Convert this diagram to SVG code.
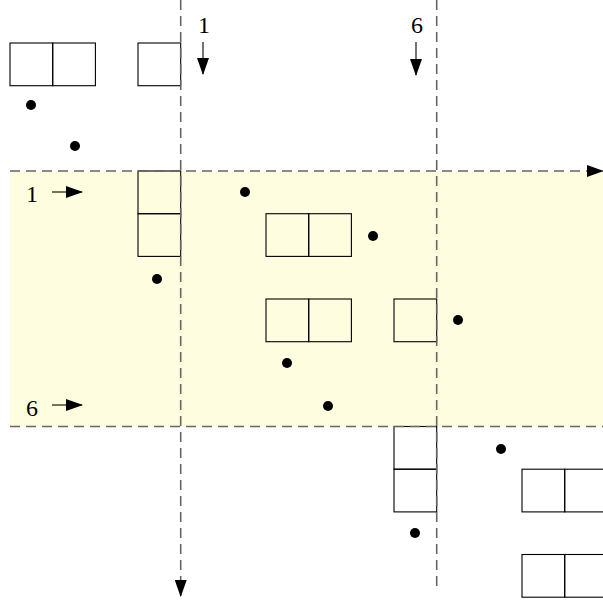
<svg xmlns="http://www.w3.org/2000/svg" width="603" height="604" viewBox="0 0 603 604">
<style>
.cell{fill:none;stroke:#000;stroke-width:1.1}
.dash{fill:none;stroke:#666;stroke-width:1.6;stroke-dasharray:10,6}
.dot{fill:#000}
.lbl{font-family:"Liberation Serif","DejaVu Serif",serif;font-size:24px;fill:#000}
.arr{stroke:#000;stroke-width:1.1;fill:none}
</style>
<defs>
<marker id="ahg" markerWidth="17" markerHeight="12" refX="16" refY="6" orient="auto" markerUnits="userSpaceOnUse">
<path d="M0,0 L17,6 L0,12 Z" fill="#000"/>
</marker>
</defs>
<rect x="0" y="0" width="603" height="604" fill="#fff"/>
<rect id="band" x="10" y="171" width="593" height="255.5" fill="#FEFDE0"/>
<g id="boxes">
<g id="b1"><rect class="cell" x="10" y="43" width="42.7" height="42.7"/><rect class="cell" x="52.7" y="43" width="42.7" height="42.7"/></g>
<g id="b2"><rect class="cell" x="138" y="43" width="42.7" height="42.7"/></g>
<g id="b3"><rect class="cell" x="138" y="171" width="42.7" height="42.7"/><rect class="cell" x="138" y="213.7" width="42.7" height="42.7"/></g>
<g id="b4"><rect class="cell" x="266" y="213.7" width="42.7" height="42.7"/><rect class="cell" x="308.7" y="213.7" width="42.7" height="42.7"/></g>
<g id="b5"><rect class="cell" x="266" y="299" width="42.7" height="42.7"/><rect class="cell" x="308.7" y="299" width="42.7" height="42.7"/></g>
<g id="b6"><rect class="cell" x="394" y="299" width="42.7" height="42.7"/></g>
<g id="b7"><rect class="cell" x="394" y="426.5" width="42.7" height="42.7"/><rect class="cell" x="394" y="469.2" width="42.7" height="42.7"/></g>
<g id="b8"><rect class="cell" x="522" y="469.2" width="42.7" height="42.7"/><rect class="cell" x="564.7" y="469.2" width="42.7" height="42.7"/></g>
<g id="b9"><rect class="cell" x="522" y="554.5" width="42.7" height="42.7"/><rect class="cell" x="564.7" y="554.5" width="42.7" height="42.7"/></g>
</g>
<g id="connectors">
<line class="dash" x1="180.7" y1="0" x2="180.7" y2="596" marker-end="url(#ahg)"/>
<line class="dash" x1="436.7" y1="0" x2="436.7" y2="588"/>
<line class="dash" x1="10" y1="171" x2="603" y2="171" marker-end="url(#ahg)"/>
<line class="dash" x1="10" y1="426.5" x2="603" y2="426.5"/>
<line class="arr" x1="203" y1="42" x2="203" y2="74" marker-end="url(#ahg)"/>
<line class="arr" x1="416" y1="42" x2="416" y2="75" marker-end="url(#ahg)"/>
<line class="arr" x1="52" y1="192" x2="82" y2="192" marker-end="url(#ahg)"/>
<line class="arr" x1="52" y1="405" x2="82" y2="405" marker-end="url(#ahg)"/>
</g>
<g id="dots">
<circle class="dot" cx="31" cy="105" r="5"/>
<circle class="dot" cx="75" cy="146" r="5"/>
<circle class="dot" cx="245" cy="192" r="5"/>
<circle class="dot" cx="373" cy="236" r="5"/>
<circle class="dot" cx="157" cy="279" r="5"/>
<circle class="dot" cx="458" cy="320" r="5"/>
<circle class="dot" cx="287" cy="363" r="5"/>
<circle class="dot" cx="328" cy="406" r="5"/>
<circle class="dot" cx="501" cy="449" r="5"/>
<circle class="dot" cx="415" cy="533" r="5"/>
</g>
<g id="labels">
<text class="lbl" x="204" y="33" text-anchor="middle">1</text>
<text class="lbl" x="417" y="33" text-anchor="middle">6</text>
<text class="lbl" x="32" y="202" text-anchor="middle">1</text>
<text class="lbl" x="32" y="416" text-anchor="middle">6</text>
</g>
</svg>
